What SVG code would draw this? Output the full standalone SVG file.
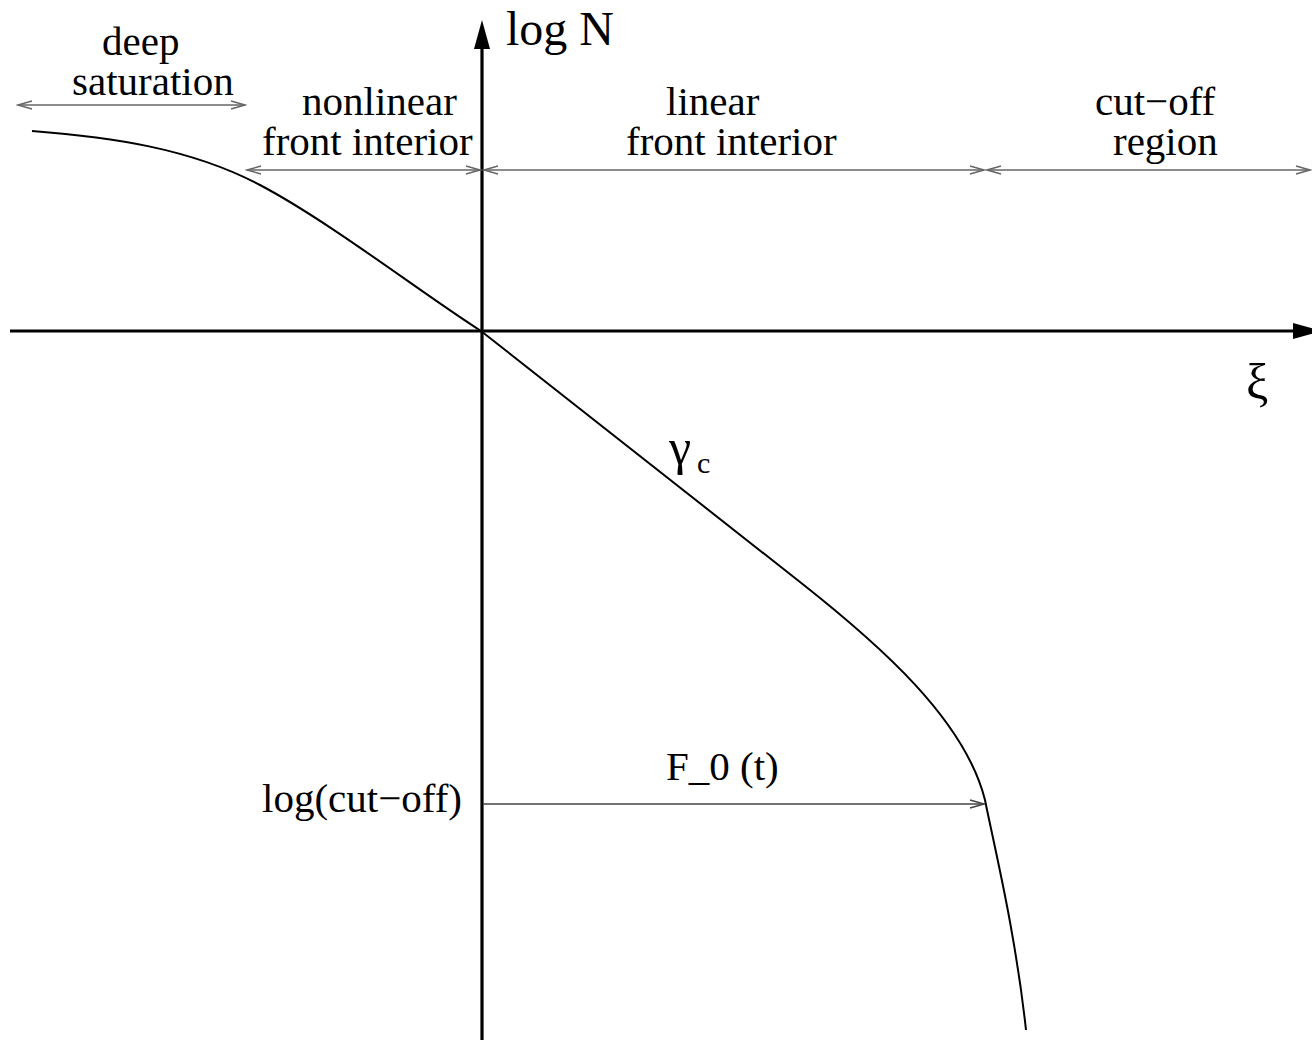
<svg xmlns="http://www.w3.org/2000/svg" width="1312" height="1040" viewBox="0 0 1312 1040">
<style>
text { font-family: "Liberation Serif", "Times New Roman", serif; fill: #000; }
.lbl { font-size: 41px; }
.rng { fill: none; stroke: #666; stroke-width: 1.6; marker-start: url(#open); marker-end: url(#open); }
.axis { stroke: #000; stroke-width: 3.2; fill: none; }
.curve { stroke: #000; stroke-width: 2; fill: none; }
</style>
<defs>
<marker id="open" viewBox="-16 -6 18 12" refX="0" refY="0" markerWidth="18" markerHeight="12" markerUnits="userSpaceOnUse" orient="auto-start-reverse">
<path d="M-14,-4 L0,0 L-14,4" fill="none" stroke="#666" stroke-width="1.5"/>
</marker>
<marker id="openDark" viewBox="-16 -6 18 12" refX="0" refY="0" markerWidth="18" markerHeight="12" markerUnits="userSpaceOnUse" orient="auto">
<path d="M-14,-4 L0,0 L-14,4" fill="none" stroke="#444" stroke-width="1.4"/>
</marker>
</defs>
<rect width="1312" height="1040" fill="#fff"/>

<g id="axes">
<line class="axis" x1="482" y1="1040" x2="482" y2="46"/>
<polygon points="482,20 474,49 490,49" fill="#000"/>
<line class="axis" x1="10" y1="331" x2="1296" y2="331"/>
<polygon points="1322,331 1293,323 1293,339" fill="#000"/>
</g>

<g id="connectors">
<line class="rng" x1="18" y1="105" x2="245" y2="105"/>
<line class="rng" x1="247" y1="170" x2="480" y2="170"/>
<line class="rng" x1="484" y1="170" x2="984" y2="170"/>
<line class="rng" x1="987" y1="170" x2="1310" y2="170"/>
<line x1="483" y1="804" x2="984" y2="804" stroke="#444" stroke-width="1.4" marker-end="url(#openDark)"/>
</g>

<g id="curve">
<path class="curve" d="M32,131 C110,137 190,148 260,185 C330,222 420,292 481,331 L800,582 C880,645 965,720 985,800 C995,850 1015,930 1026,1030"/>
</g>

<g id="labels">
<text class="lbl" x="102" y="55">deep</text>
<text class="lbl" x="72" y="95">saturation</text>
<text class="lbl" x="302" y="115">nonlinear</text>
<text class="lbl" x="262" y="155">front interior</text>
<text class="lbl" x="666" y="115">linear</text>
<text class="lbl" x="626" y="155">front interior</text>
<text class="lbl" x="1095" y="115">cut−off</text>
<text class="lbl" x="1113" y="155">region</text>
<text x="506" y="45" font-size="48">log N</text>
<text x="1246" y="399" font-size="50">ξ</text>
<text x="669" y="464" font-size="50">γ</text>
<text x="697" y="473" font-size="30">c</text>
<text class="lbl" x="666" y="780">F_0 (t)</text>
<text class="lbl" x="462" y="812" text-anchor="end">log(cut−off)</text>
</g>
</svg>
